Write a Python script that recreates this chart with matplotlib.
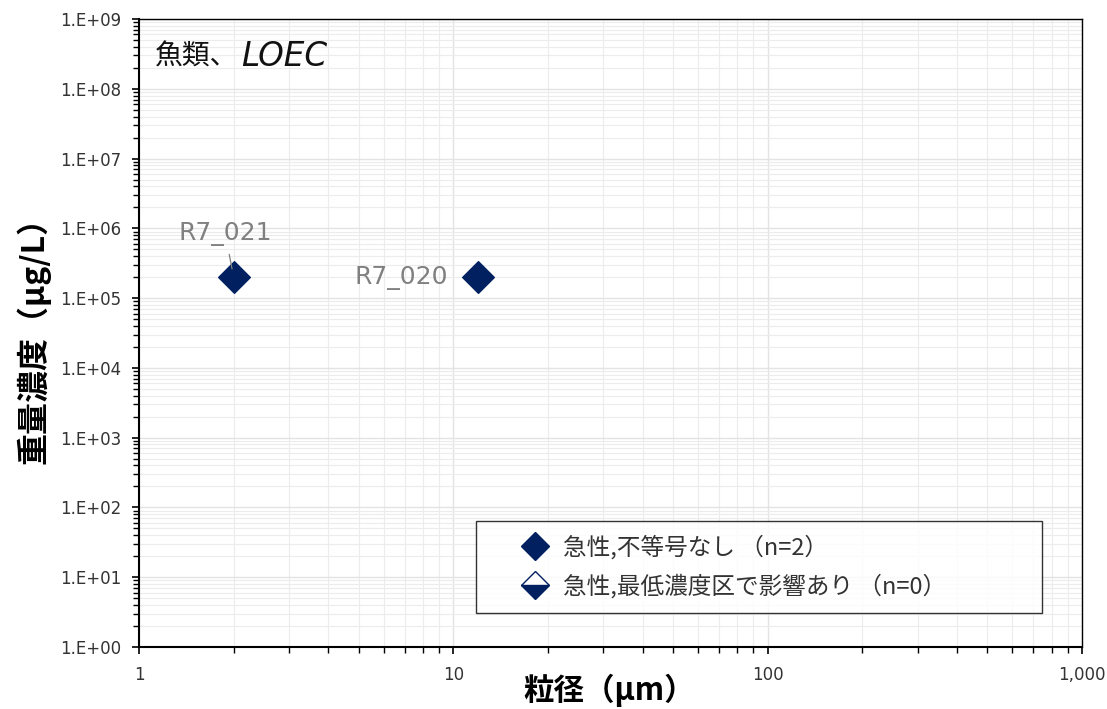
import matplotlib
matplotlib.use("Agg")
import matplotlib.pyplot as plt
from matplotlib.ticker import FixedLocator, FixedFormatter, LogLocator, NullFormatter
from matplotlib.lines import Line2D

plt.rcParams['font.family'] = ['Noto Sans CJK JP', 'DejaVu Sans']

# Data
particle_size = [12, 2]            # µm
concentration = [2e5, 2e5]         # µg/L
point_ids = ["R7_020", "R7_021"]
legend_labels = ["急性,不等号なし （n=2）", "急性,最低濃度区で影響あり （n=0）"]
y_tick_labels = ["1.E+00", "1.E+01", "1.E+02", "1.E+03", "1.E+04",
                 "1.E+05", "1.E+06", "1.E+07", "1.E+08", "1.E+09"]
x_tick_labels = ["1", "10", "100", "1,000"]

navy = "#002060"
W, H = 1107, 709
fig = plt.figure(figsize=(W / 100, H / 100), dpi=100)
L, R, T, B = 139, 1082, 19, 647
ax = fig.add_axes([L / W, 1 - B / H, (R - L) / W, (B - T) / H])

ax.set_xscale("log")
ax.set_yscale("log")
ax.set_xlim(1, 1000)
ax.set_ylim(1, 1e9)

ax.xaxis.set_major_locator(FixedLocator([1, 10, 100, 1000]))
ax.xaxis.set_major_formatter(FixedFormatter(x_tick_labels))
ax.xaxis.set_minor_locator(LogLocator(base=10, subs=range(2, 10)))
ax.xaxis.set_minor_formatter(NullFormatter())
ax.yaxis.set_major_locator(FixedLocator([10.0**i for i in range(10)]))
ax.yaxis.set_major_formatter(FixedFormatter(y_tick_labels))
ax.yaxis.set_minor_locator(LogLocator(base=10, subs=range(2, 10), numticks=100))
ax.yaxis.set_minor_formatter(NullFormatter())

ax.grid(which="major", color="#e3e3e3", linewidth=1.0)
ax.grid(which="minor", color="#ececec", linewidth=0.8)
ax.set_axisbelow(True)

ax.tick_params(which="both", direction="out", color="black", labelsize=12,
               labelcolor="#333333", top=False, right=False)
ax.tick_params(which="major", length=5, width=1.2)
ax.tick_params(which="minor", length=4.5, width=1.0)
ax.tick_params(axis="x", pad=9)
ax.tick_params(axis="y", pad=8)
for lbl in ax.get_xticklabels() + ax.get_yticklabels():
    lbl.set_family(["DejaVu Sans"])

for side in ["left", "bottom"]:
    ax.spines[side].set_linewidth(1.5)
for side in ["top", "right"]:
    ax.spines[side].set_linewidth(1.0)

ax.scatter(particle_size, concentration, marker="D", s=260, color=navy,
           edgecolors=navy, zorder=3)

# Point labels
ax.annotate(point_ids[0], xy=(particle_size[0], concentration[0]),
            xytext=(-21.5, -1), textcoords="offset points", ha="right", va="center",
            fontsize=18, color="#808080", family=["DejaVu Sans"])
ax.annotate(point_ids[1], xy=(particle_size[1], concentration[1]),
            xytext=(-6, 31), textcoords="offset points", ha="center", va="center",
            fontsize=18, color="#808080", family=["DejaVu Sans"], zorder=4,
            arrowprops=dict(arrowstyle="-", color="#808080", lw=0.9,
                            shrinkA=4, shrinkB=-6))

# Panel title: Japanese part upright, abbreviation in italics
ax.text(155 / W, 1 - 57 / H, "魚類、", transform=fig.transFigure, fontsize=20,
        ha="left", va="center", color="#111111")
ax.text(241 / W, 1 - 57 / H, "LOEC", transform=fig.transFigure, fontsize=23.5,
        ha="left", va="center", color="#111111", style="italic",
        family=["DejaVu Sans"])

ax.set_xlabel("粒径（µm）", fontsize=22, fontweight="bold")
ax.set_ylabel("重量濃度（µg/L）", fontsize=23, fontweight="bold")
ax.xaxis.set_label_coords((609 - L) / (R - L), -(690 - B) / (B - T))
ax.yaxis.set_label_coords(-(L - 33) / (R - L), (B - 332) / (B - T))
ax.xaxis.label.set_va("center")
ax.yaxis.label.set_va("center")

handles = [
    Line2D([], [], marker="D", linestyle="none", markersize=14,
           color=navy, markeredgecolor=navy),
    Line2D([], [], marker="D", linestyle="none", markersize=14,
           color=navy, markeredgecolor=navy, fillstyle="bottom",
           markerfacecoloralt="white"),
]
leg = ax.legend(handles, legend_labels, loc="upper left",
                bbox_to_anchor=((476 - L) / (R - L), (B - 521) / (B - T),
                                (1042 - 476) / (R - L), 0),
                mode="expand", fontsize=17, frameon=True, fancybox=False,
                edgecolor="black", handlelength=3.8, handletextpad=-0.7,
                borderpad=0.6, labelspacing=0.6, borderaxespad=0)
leg.get_frame().set_linewidth(1.0)
for t in leg.get_texts():
    t.set_color("#333333")

fig.savefig("out.png", dpi=100)
